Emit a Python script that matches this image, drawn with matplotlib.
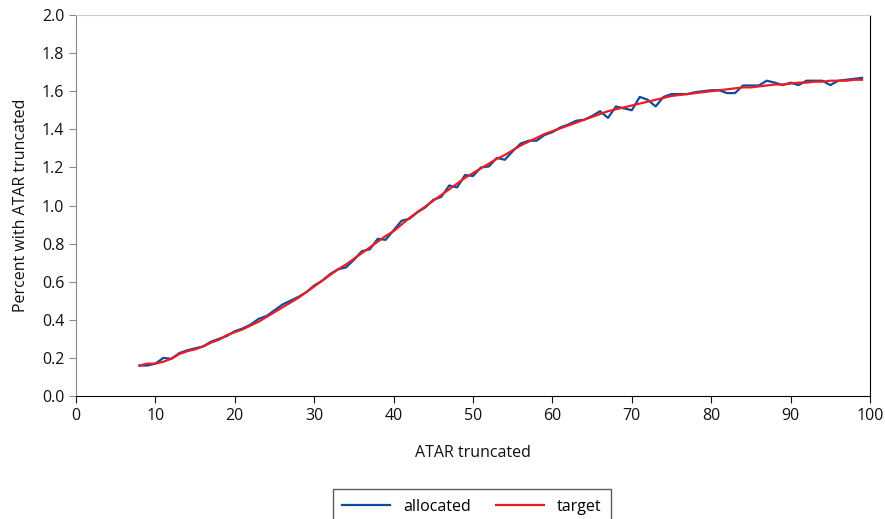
import matplotlib
matplotlib.use("Agg")
import matplotlib.pyplot as plt

plt.rcParams['font.family'] = ['Open Sans', 'DejaVu Sans']

atar = list(range(8, 100))
allocated = [0.16, 0.16, 0.17, 0.20, 0.195, 0.225, 0.24, 0.25, 0.26, 0.285,
             0.30, 0.315, 0.34, 0.355, 0.375, 0.405, 0.42, 0.45, 0.48, 0.50,
             0.52, 0.545, 0.58, 0.605, 0.64, 0.665, 0.675, 0.715, 0.76, 0.77,
             0.825, 0.82, 0.87, 0.92, 0.93, 0.965, 0.99, 1.03, 1.045, 1.105,
             1.095, 1.16, 1.155, 1.20, 1.205, 1.25, 1.24, 1.285, 1.325, 1.34,
             1.34, 1.37, 1.385, 1.41, 1.425, 1.445, 1.45, 1.47, 1.495, 1.46,
             1.52, 1.51, 1.50, 1.57, 1.555, 1.52, 1.57, 1.585, 1.585, 1.585,
             1.595, 1.60, 1.605, 1.605, 1.59, 1.59, 1.63, 1.63, 1.63, 1.655,
             1.645, 1.632, 1.645, 1.632, 1.655, 1.655, 1.655, 1.632, 1.655, 1.66,
             1.665, 1.67]
target = [0.16, 0.17, 0.17, 0.18, 0.195, 0.22, 0.235, 0.245, 0.26, 0.28,
          0.295, 0.32, 0.335, 0.35, 0.37, 0.39, 0.415, 0.44, 0.465, 0.49,
          0.515, 0.545, 0.575, 0.605, 0.635, 0.665, 0.69, 0.72, 0.75, 0.78,
          0.81, 0.84, 0.865, 0.90, 0.935, 0.965, 0.995, 1.025, 1.055, 1.085,
          1.115, 1.145, 1.17, 1.195, 1.22, 1.245, 1.265, 1.29, 1.315, 1.335,
          1.355, 1.375, 1.39, 1.405, 1.42, 1.435, 1.45, 1.465, 1.48, 1.495,
          1.505, 1.515, 1.525, 1.535, 1.545, 1.555, 1.565, 1.575, 1.58, 1.585,
          1.59, 1.595, 1.60, 1.605, 1.61, 1.615, 1.62, 1.62, 1.625, 1.63,
          1.635, 1.635, 1.64, 1.645, 1.645, 1.65, 1.65, 1.655, 1.655, 1.655,
          1.66, 1.66]

x_ticks = list(range(0, 101, 10))
y_ticks = [0.0, 0.2, 0.4, 0.6, 0.8, 1.0, 1.2, 1.4, 1.6, 1.8, 2.0]

fig = plt.figure(figsize=(8.85, 5.19), dpi=100)
ax = fig.add_axes([76/885, 1-396/519, (870-76)/885, (396-15)/519])

ax.plot(atar, allocated, color='#0d4d9b', lw=1.6, label='allocated')
ax.plot(atar, target, color='#ec1c24', lw=1.6, label='target')

ax.set_xlim(0, 100)
ax.set_ylim(0, 2.0)
ax.set_xticks(x_ticks)
ax.set_yticks(y_ticks)
ax.set_yticklabels([f"{v:.1f}" for v in y_ticks])
ax.tick_params(axis='both', direction='out', length=5, labelsize=11.5, colors='#111111')
ax.tick_params(axis='y', color='#888888')
ax.spines['left'].set_color('#888888')
ax.spines['bottom'].set_color('#000000')
ax.spines['right'].set_color('#000000')
ax.spines['top'].set_color('#cccccc')
ax.set_xlabel('ATAR truncated', fontsize=11.5, labelpad=15, color='#111111')
ax.set_ylabel('Percent with ATAR truncated', fontsize=11.5, labelpad=9, color='#111111')

leg = fig.legend(loc='upper center', bbox_to_anchor=(472/885, 1-481/519), ncol=2,
                 frameon=True, fancybox=False, fontsize=11.5, handlelength=3.0,
                 columnspacing=1.6, borderpad=0.6)
leg.get_frame().set_edgecolor('#333333')
leg.get_frame().set_linewidth(1.0)

fig.savefig('out.png', dpi=100)
